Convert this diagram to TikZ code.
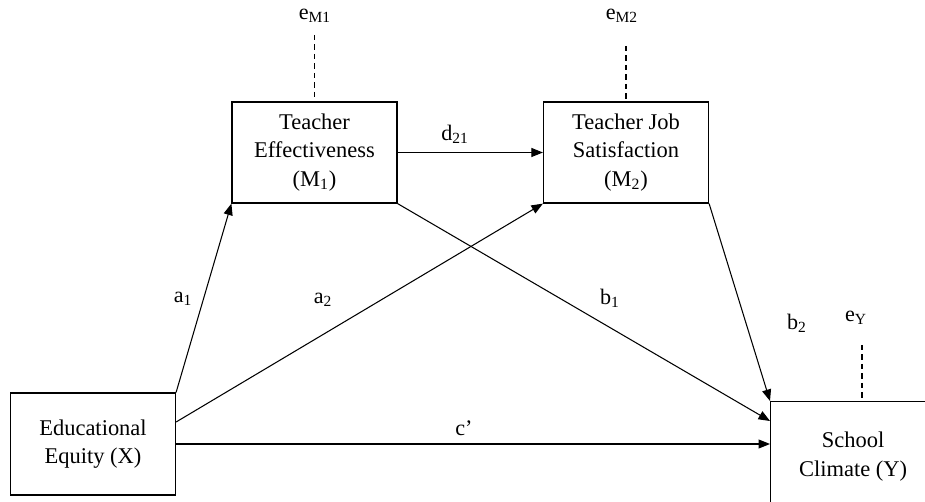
\documentclass[tikz,border=0pt]{standalone}
\usepackage{fontspec}
\setmainfont{Liberation Serif}
\usetikzlibrary{arrows.meta,positioning}

\tikzset{
  varbox/.style={draw, line width=0.7pt, minimum width=3.3cm, minimum height=2.02cm,
    align=center, inner sep=0pt, font=\fontsize{12.8}{16.2}\selectfont},
  path/.style={line width=0.6pt, -{Triangle[length=0.23cm,width=0.18cm]}},
  coef/.style={font=\fontsize{12.6}{14}\selectfont, inner sep=1pt},
  errline/.style={line width=0.6pt, dash pattern=on 3pt off 2.4pt}
}

\begin{document}
\begin{tikzpicture}[x=0.02cm,y=-0.02cm]

\clip (0,0) rectangle (925,502);

% variables
\node[varbox] (M1) at (314.5,152.5) {Teacher\\Effectiveness\\(M\textsubscript{1})};
\node[varbox] (M2) at (626,152.5) {Teacher Job\\Satisfaction\\(M\textsubscript{2})};
\node[varbox, minimum height=2.04cm] (X) at (93,444) {Educational\\Equity (X)};
\node[varbox, minimum height=2.2cm, anchor=north west] (Y) at (770,401) {School\\Climate (Y)};

% error terms
\node[coef] (eM1) at (315,16) {e\textsubscript{M1}};
\node[coef] (eM2) at (622,16) {e\textsubscript{M2}};
\node[coef] (eY) at (856,318) {e\textsubscript{Y}};
\coordinate (eYtop) at (862,345);
\draw[errline] ([yshift=-0.2cm]eM1.south -| M1.north) -- (M1.north);
\draw[errline] ([yshift=-0.42cm]eM2.south -| M2.north) -- (M2.north);
\draw[errline] (eYtop) -- (eYtop |- Y.north);

% paths
\draw[path] (X.north east) -- (M1.south west);
\draw[path] ([yshift=0.44cm]X.east) -- (M2.south west);
\draw[path] (X.east) -- (X.east -| Y.west);
\draw[path] (M1.east) -- (M2.west);
\draw[path] (M1.south east) -- ([yshift=-0.4cm]Y.north west);
\draw[path] (M2.south east) -- (Y.north west);

% coefficients
\node[coef] (a1) at (183,299) {a\textsubscript{1}};
\node[coef] (a2) at (323,300) {a\textsubscript{2}};
\node[coef] (b1) at (610,298) {b\textsubscript{1}};
\node[coef] (b2) at (797,323) {b\textsubscript{2}};
\node[coef] (c) at (464,428) {c’};
\node[coef] (d21) at (455,134) {d\textsubscript{21}};

\end{tikzpicture}
\end{document}
